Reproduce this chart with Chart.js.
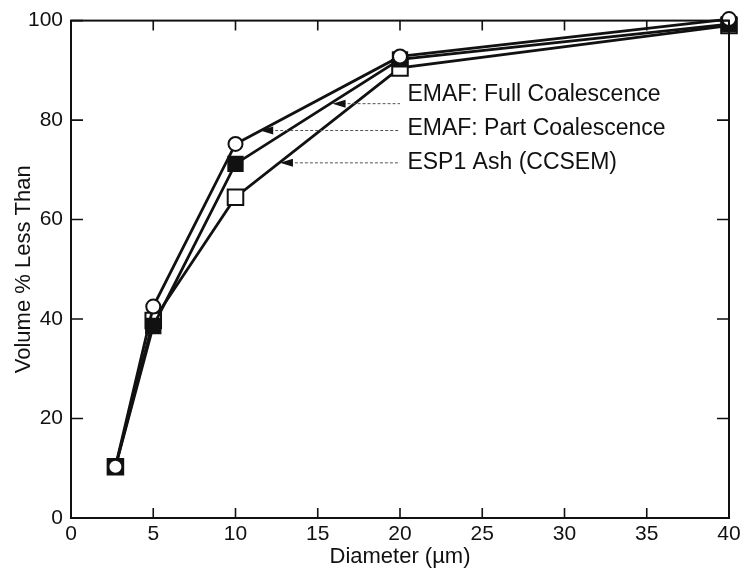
<!DOCTYPE html>
<html>
<head>
<meta charset="utf-8">
<script src="https://cdn.jsdelivr.net/npm/chart.js@4"></script>
<style>
  html, body { margin: 0; padding: 0; background: #fff; }
  #wrap { width: 745px; height: 571px; }
</style>
</head>
<body>
<div id="wrap"><canvas id="sizeChart" width="745" height="571"></canvas></div>
<script>
// Particle size distribution
const diameters = [2.7, 5, 10, 20, 40];
const fullCoal = [10.3, 42.5, 75.2, 92.8, 100.3];
const partCoal = [10.3, 38.6, 71.2, 92.2, 99.3];
const esp1Ash = [10.3, 39.7, 64.5, 90.5, 99.0];

const xTicks = [0, 5, 10, 15, 20, 25, 30, 35, 40];
const yTicks = [0, 20, 40, 60, 80, 100];

const noteTexts = ["EMAF: Full Coalescence", "EMAF: Part Coalescence", "ESP1 Ash (CCSEM)"];

// where the labels sit, in axis units
const noteLayout = [
  { tipX: 15.9, lineY: 83.3, textY: 85.2 },
  { tipX: 11.5, lineY: 77.9, textY: 78.3 },
  { tipX: 12.7, lineY: 71.4, textY: 71.5 }
];
const LEADER_END = 20.0;
const TEXT_X = 20.45;

const FONT = "'Liberation Sans', Arial, Helvetica, sans-serif";

const toPoints = (ys) => diameters.map((x, i) => ({ x, y: ys[i] }));

// frame with inward ticks on all four sides
const framePlugin = {
  id: "frame",
  afterDraw(chart) {
    const { ctx, chartArea: a, scales } = chart;
    ctx.save();
    ctx.strokeStyle = "#111";
    ctx.lineWidth = 2;
    ctx.strokeRect(a.left, a.top, a.right - a.left, a.bottom - a.top);
    ctx.lineWidth = 1.6;
    ctx.beginPath();
    xTicks.forEach(v => {
      const px = scales.x.getPixelForValue(v);
      ctx.moveTo(px, a.bottom); ctx.lineTo(px, a.bottom - 10);
      ctx.moveTo(px, a.top); ctx.lineTo(px, a.top + 10);
    });
    yTicks.forEach(v => {
      const py = scales.y.getPixelForValue(v);
      ctx.moveTo(a.left, py); ctx.lineTo(a.left + 12, py);
      ctx.moveTo(a.right, py); ctx.lineTo(a.right - 12, py);
    });
    ctx.stroke();
    ctx.restore();
  }
};

// leader lines with arrowheads and the series names
const notesPlugin = {
  id: "notes",
  afterDatasetsDraw(chart) {
    const { ctx, scales } = chart;
    const xs = scales.x, ys = scales.y;
    ctx.save();
    noteLayout.forEach((n, i) => {
      const tx = xs.getPixelForValue(n.tipX);
      const ly = ys.getPixelForValue(n.lineY);
      const ex = xs.getPixelForValue(LEADER_END);

      ctx.strokeStyle = "#555";
      ctx.lineWidth = 1;
      ctx.setLineDash([3, 2]);
      ctx.beginPath();
      ctx.moveTo(tx + 10, ly);
      ctx.lineTo(ex, ly);
      ctx.stroke();
      ctx.setLineDash([]);

      ctx.fillStyle = "#111";
      ctx.beginPath();
      ctx.moveTo(tx, ly);
      ctx.lineTo(tx + 13, ly - 4);
      ctx.lineTo(tx + 13, ly + 4);
      ctx.closePath();
      ctx.fill();

      ctx.font = `23px ${FONT}`;
      ctx.textBaseline = "middle";
      ctx.textAlign = "left";
      ctx.fillText(noteTexts[i], xs.getPixelForValue(TEXT_X), ys.getPixelForValue(n.textY));
    });
    ctx.restore();
  }
};

const ctx = document.getElementById("sizeChart").getContext("2d");

new Chart(ctx, {
  type: "scatter",
  data: {
    datasets: [
      {
        label: noteTexts[0],
        data: toPoints(fullCoal),
        showLine: true,
        borderColor: "#111",
        borderWidth: 2.8,
        pointStyle: "circle",
        pointRadius: 7,
        pointBorderWidth: 2,
        pointBackgroundColor: "#fff",
        pointBorderColor: "#111"
      },
      {
        label: noteTexts[1],
        data: toPoints(partCoal),
        showLine: true,
        borderColor: "#111",
        borderWidth: 2.8,
        pointStyle: "rect",
        pointRadius: 10.5,
        pointBorderWidth: 1.5,
        pointBackgroundColor: "#111",
        pointBorderColor: "#111"
      },
      {
        label: noteTexts[2],
        data: toPoints(esp1Ash),
        showLine: true,
        borderColor: "#111",
        borderWidth: 2.8,
        pointStyle: "rect",
        pointRadius: 11,
        pointBorderWidth: 2,
        pointBackgroundColor: "#fff",
        pointBorderColor: "#111"
      }
    ]
  },
  options: {
    responsive: false,
    animation: false,
    clip: false,
    layout: { padding: { top: 20, right: 16, left: 0, bottom: 0 } },
    plugins: { legend: { display: false }, tooltip: { enabled: false } },
    scales: {
      x: {
        type: "linear",
        min: 0,
        max: 40,
        afterBuildTicks: s => { s.ticks = xTicks.map(v => ({ value: v })); },
        afterFit: s => { s.height = 53; },
        grid: { display: false, drawTicks: false },
        border: { display: false },
        ticks: { color: "#111", padding: 4, font: { family: FONT, size: 21 } },
        title: {
          display: true,
          text: "Diameter (\u00b5m)",
          color: "#111",
          padding: { top: 0, bottom: 1 },
          font: { family: FONT, size: 22 }
        }
      },
      y: {
        type: "linear",
        min: 0,
        max: 100,
        afterBuildTicks: s => { s.ticks = yTicks.map(v => ({ value: v })); },
        afterFit: s => { s.width = 71; },
        grid: { display: false, drawTicks: false },
        border: { display: false },
        ticks: { color: "#111", padding: 8, font: { family: FONT, size: 21 } },
        title: {
          display: true,
          text: "Volume % Less Than",
          color: "#111",
          padding: { top: 11, bottom: 0 },
          font: { family: FONT, size: 22 }
        }
      }
    }
  },
  plugins: [framePlugin, notesPlugin]
});
</script>
</body>
</html>
